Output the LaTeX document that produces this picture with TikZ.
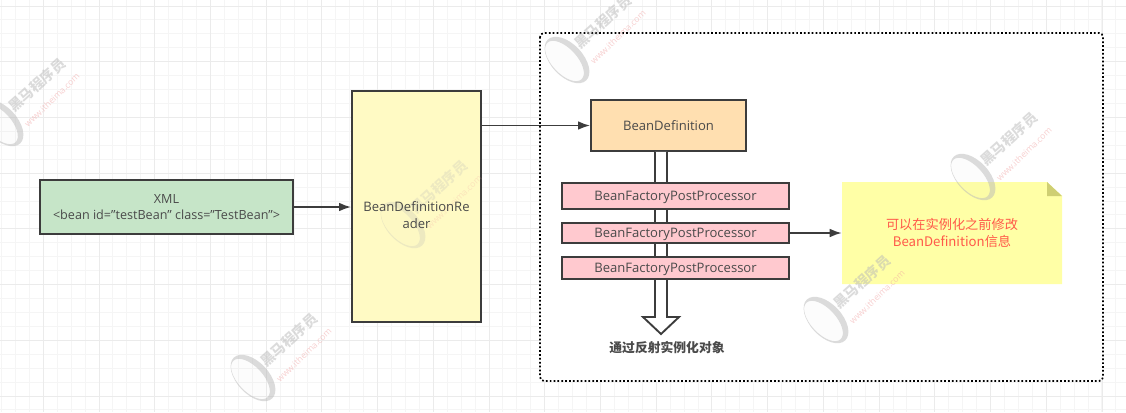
\documentclass[tikz,border=0pt]{standalone}
\usepackage{fontspec}
\setmainfont{Open Sans}
\newfontfamily\cjk{Noto Sans CJK SC}
\usetikzlibrary{calc,arrows.meta}
\definecolor{edge}{HTML}{3C3C3C}
\definecolor{ink}{HTML}{4A4A4A}
\definecolor{gridminor}{HTML}{F5F5F5}
\definecolor{gridmajor}{HTML}{EBEBEB}
\definecolor{wmgray}{HTML}{B8B8B8}
\definecolor{wmpink}{HTML}{F0A0A0}
\definecolor{xmlfill}{HTML}{C6E5C8}
\definecolor{readerfill}{HTML}{FFFAC4}
\definecolor{deffill}{HTML}{FFDFB0}
\definecolor{procfill}{HTML}{FFC9CF}
\definecolor{notefill}{HTML}{FFFFA6}
\definecolor{foldfill}{HTML}{CFCF73}
\definecolor{notetext}{HTML}{FF5A4A}
\tikzset{
  boxbase/.style={draw=edge,line width=1.5pt,text=ink,inner sep=0pt,align=center,font=\fontsize{9.8pt}{12.4pt}\selectfont},
  oneline/.style={text height=8pt,text depth=.8pt},
  xmlbox/.style={boxbase,fill=xmlfill,minimum width=189.5pt,minimum height=40.5pt,font=\fontsize{9.45pt}{12pt}\selectfont},
  readerbox/.style={boxbase,fill=readerfill,minimum width=96.7pt,minimum height=173.2pt},
  defbox/.style={boxbase,oneline,fill=deffill,minimum width=116.2pt,minimum height=38.2pt},
  procbox/.style={boxbase,oneline,fill=procfill,minimum width=170.2pt},
  link/.style={draw=edge,line width=1.2pt,-{Latex[length=9pt,width=6.5pt]}},
  wmtext/.style={rotate=42,text=wmgray,font=\cjk\bfseries\fontsize{10.5pt}{11pt}\selectfont},
  wmurl/.style={rotate=44,text=wmpink,font=\fontsize{6.5pt}{7pt}\selectfont},
}
% id, x, y, strength
\newcommand{\wmark}[4]{%
  \begin{scope}[shift={(#2,#3)},opacity=#4,transparency group]
    \node[wmtext] (wmt#1) at (36,-38) {黑马程序员};
    \node[wmurl] (wmu#1) at (51,-23) {www.itheima.com};
    \begin{scope}[rotate=-47]
      \fill[wmgray,even odd rule] (0,0) ellipse [x radius=28,y radius=16] (-1,2.5) ellipse [x radius=25,y radius=12.5];
      \fill[wmgray,opacity=.08] (-1,2.5) ellipse [x radius=25,y radius=12.5];
    \end{scope}
  \end{scope}}
\begin{document}
\begin{tikzpicture}[x=0.75pt,y=-0.75pt]
\useasboundingbox (0,0) rectangle (1126,412);
\fill[white] (0,0) rectangle (1126,412);
% grid
\foreach \k in {0,...,80}{\draw[gridminor,line width=.75pt] ({1.5+13.93*\k},0) -- ({1.5+13.93*\k},412);}
\foreach \k in {0,...,29}{\draw[gridminor,line width=.75pt] (0,{6+13.93*\k}) -- (1126,{6+13.93*\k});}
\foreach \k in {0,...,20}{\draw[gridmajor,line width=.75pt] ({43.3+55.72*\k},0) -- ({43.3+55.72*\k},412);}
\foreach \k in {0,...,7}{\draw[gridmajor,line width=.75pt] (0,{6+55.72*\k}) -- (1126,{6+55.72*\k});}
% dotted frame
\draw[black,fill=white,line width=1.3pt,dash pattern=on 1.3pt off 1.6pt,rounded corners=3pt] (540,33) rectangle (1103,381);
% nodes
\node[xmlbox] (xml) at (166.5,207) {XML\\[-.5pt]<bean id=\symbol{34}testBean\symbol{34} class=\symbol{34}TestBean\symbol{34}>};
\node[readerbox] (reader) at (416.5,206.5) {};
\wmark{f}{403}{225}{.25}
\node[boxbase,draw=none,fill=none] (readertext) at (416.5,215) {BeanDefinitionRe\\ader};
\node[defbox] (def) at (668.5,125.5) {BeanDefinition};
\coordinate (tip) at (661,334);
% hollow arrow (behind the processors)
\draw[draw=edge,line width=1.4pt,fill=white,line join=miter]
  ($(def.south -| tip)+(-6,0)$) -- ($(tip)+(-6,-17)$) -- ($(tip)+(-18,-17)$) -- (tip)
  -- ($(tip)+(18,-17)$) -- ($(tip)+(6,-17)$) -- ($(def.south -| tip)+(6,0)$);
\node[procbox,minimum height=19.5pt] (p1) at (675.5,196) {BeanFactoryPostProcessor};
\node[procbox,minimum height=15pt] (p2) at (675.5,233) {BeanFactoryPostProcessor};
\node[procbox,minimum height=16.5pt] (p3) at (675.5,268) {BeanFactoryPostProcessor};
\node[text=ink,inner sep=0pt,font=\cjk\bfseries\fontsize{9.6pt}{12pt}\selectfont] (caption) at (667,348) {通过反射实例化对象};
% note
\path[fill=notefill] (842,182) -- (1047,182) -- (1062,196) -- (1062,284) -- (842,284) -- cycle;
\path[fill=foldfill] (1047,182) -- (1062,196) -- (1047,196) -- cycle;
\node[inner sep=0pt,minimum width=165pt,minimum height=76.5pt,text=notetext,align=center,font=\cjk\fontsize{9.9pt}{12.8pt}\selectfont] (note) at (952,233) {可以在实例化之前修改\\BeanDefinition信息};
% connectors
\draw[link] (xml.east) -- (reader.west |- xml.east);
\draw[link] (reader.east |- def.west) -- (def.west);
\draw[link] (p2.east) -- (note.west);
% watermarks
\wmark{a}{1}{123}{.5}
\wmark{b}{253}{378}{.5}
\wmark{c}{567}{60}{.5}
\wmark{d}{826}{320}{.5}
\wmark{e}{973}{177}{.5}
\end{tikzpicture}
\end{document}
